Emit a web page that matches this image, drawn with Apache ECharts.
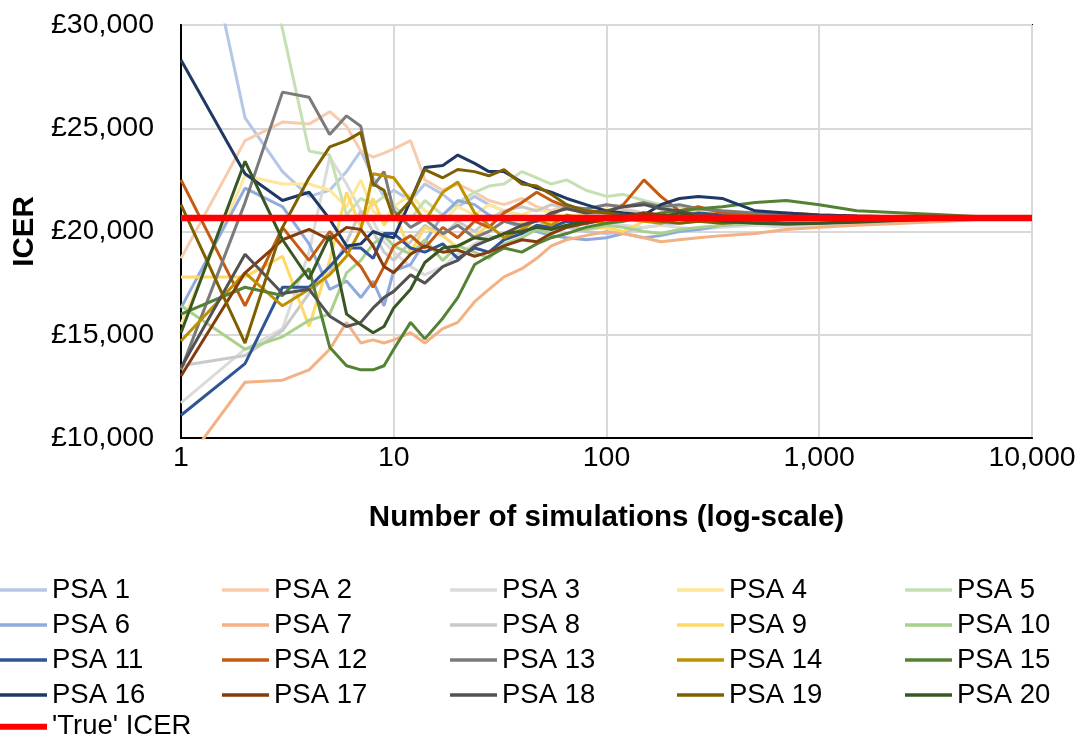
<!DOCTYPE html>
<html>
<head>
<meta charset="utf-8">
<script src="https://cdn.jsdelivr.net/npm/echarts@6/dist/echarts.min.js"></script>
<style>
html,body{margin:0;padding:0;background:#fff;}
#chart{width:1083px;height:740px;}
</style>
</head>
<body>
<div id="chart"></div>
<script>
// Number of simulations (x positions)
const simulations = [1,2,3,4,5,6,7,8,9,10,12,14,17,20,24,28,33,40,47,55,65,80,100,120,150,180,220,270,350,500,700,1000,1500,2500,4000,6000,10000];

const psa1  = [40000,25500,22900,21700,22000,22900,23900,22600,21700,22000,21500,22300,21800,21200,21700,21300,21000,20800,20500,20300,20200,20000,19900,20000,20200,20300,20400,20500,20500,20600,20500,20550,20600,20650,20650,20650,20650];
const psa2  = [18700,24400,25300,25200,25800,25100,23900,23600,23800,24000,24400,22500,22000,22300,21900,21500,21300,21600,21200,21000,21300,21000,21300,21100,20900,20800,20700,20800,20700,20600,20600,20650,20600,20650,20700,20650,20650];
const psa3  = [11700,14300,15300,19000,23600,22300,21000,20500,19500,19000,18300,17900,18300,18900,19400,19800,19600,20000,20300,20200,20500,20300,20400,20300,20200,20300,20200,20100,20200,20300,20200,20300,20400,20500,20550,20600,20650];
const psa4  = [15500,22700,22300,22300,22000,21200,22500,21000,20500,21200,21800,21000,20500,21200,20800,21300,21000,20800,21100,20900,20700,20900,21100,20800,20700,20900,21000,20900,20800,20900,20800,20700,20700,20650,20700,20650,20650];
const psa5  = [48000,37000,29800,23900,23700,20800,21600,21300,21700,21200,20600,21500,20800,21400,21900,22200,22300,22900,22600,22300,22500,22000,21700,21800,21500,21300,21200,21000,20900,20800,20800,20700,20700,20650,20700,20650,20650];
const psa6  = [16300,22100,21200,19400,17200,17600,16800,17600,16400,18100,18400,19500,20800,21500,21300,20800,20500,20200,20000,19800,19700,19600,19700,19900,19700,19800,20000,20100,20300,20400,20500,20500,20600,20600,20650,20650,20650];
const psa7  = [8500,12700,12800,13300,14300,15600,14600,14750,14600,14750,15100,14600,15300,15600,16600,17200,17800,18200,18700,19300,19600,19800,20000,19900,19700,19500,19600,19700,19800,19900,20100,20200,20300,20400,20500,20600,20650];
const psa8  = [13500,14000,15200,17000,18000,19500,21000,20000,19000,18600,19500,20300,19800,20500,20000,20600,21000,21200,21000,21300,21200,20900,20800,21000,20900,20700,20800,20900,20700,20600,20700,20700,20650,20700,20650,20650,20650];
const psa9  = [17800,17800,18800,15400,18600,21900,20200,21600,20300,21000,19000,20200,19800,19200,19800,20300,19700,20400,20100,20500,20300,20100,20200,20000,20500,20600,20800,21000,20900,20800,20700,20700,20650,20650,20700,20650,20650];
const psa10 = [16400,14300,14900,15700,16000,18000,18600,19400,19800,19300,18900,19600,18600,19300,19000,18700,19400,19700,20100,19900,20300,20100,20300,20200,20000,19900,20100,20200,20300,20400,20500,20500,20550,20600,20650,20650,20650];
const psa11 = [11100,13600,17300,17300,18300,19200,19200,18700,19900,19900,19200,19000,19400,18700,19200,19000,19600,19900,20300,20200,20500,20400,20600,20700,20900,20800,20700,20900,20800,20700,20800,20750,20700,20700,20650,20700,20650];
const psa12 = [22500,16400,20200,18600,20000,19000,18300,17300,18300,19300,19800,19200,20200,19700,20500,20200,20900,21400,21900,21500,21200,21000,20900,21300,22500,21700,21000,21200,20900,20800,20900,20800,20750,20700,20700,20650,20650];
const psa13 = [13300,21400,26750,26500,24700,25600,25100,22200,22900,21000,20200,20600,19900,20300,19700,20000,20500,20300,20600,20800,21200,21100,21300,21200,21400,21200,21300,21100,21000,20900,20800,20750,20700,20700,20650,20650,20650];
const psa14 = [14700,18000,16400,17200,17900,18800,20100,22800,22700,22600,21500,20500,21900,22400,20900,20300,19700,20100,20600,20300,20800,20600,20400,20600,20500,20400,20600,20700,20600,20600,20700,20600,20650,20600,20650,20650,20650];
const psa15 = [16000,17300,16900,18200,14400,13500,13300,13300,13500,14300,15600,14800,15800,16800,18400,18800,19200,19000,19400,19700,19900,20200,20400,20500,20700,20900,21000,21100,21200,21400,21500,21300,21000,20900,20800,20700,20650];
const psa16 = [28300,22800,21500,21900,20600,19300,19400,20000,19800,19700,21500,23100,23200,23700,23300,22900,22900,22400,22100,21900,21600,21300,21000,20900,20800,21300,21600,21700,21600,21000,20900,20800,20750,20700,20650,20700,20650];
const psa17 = [13000,18000,19600,20100,19600,20200,20100,19300,18300,18000,18900,19300,19000,19100,18800,19000,19300,19600,19500,19900,20200,20400,20600,20700,20900,20800,20700,20800,20700,20600,20700,20650,20650,20700,20650,20650,20650];
const psa18 = [13400,18900,17000,17200,15900,15400,15600,16300,16800,17100,17900,17500,18300,18600,19300,19600,19900,20300,20500,20900,21100,20900,21000,21200,21300,21100,21000,20800,20600,20500,20400,20400,20500,20550,20600,20650,20650];
const psa19 = [21300,14600,20200,22600,24100,24400,24800,22300,22000,20600,21500,23000,22600,23000,22900,22700,23000,22300,22200,21800,21300,21000,20900,20800,20600,20500,20400,20500,20400,20500,20600,20600,20650,20600,20650,20650,20650];
const psa20 = [15100,23400,19600,17700,19800,16000,15500,15100,15400,16300,17200,18500,19200,19300,19700,19600,19900,20000,20200,20100,20300,20500,20700,20800,20600,20700,20900,20700,20500,20400,20350,20400,20450,20550,20600,20650,20650];

const trueIcer = 20650;
const trueIcerRange = [1, 10000];

const seriesNames = ['PSA 1','PSA 2','PSA 3','PSA 4','PSA 5','PSA 6','PSA 7','PSA 8','PSA 9','PSA 10',
  'PSA 11','PSA 12','PSA 13','PSA 14','PSA 15','PSA 16','PSA 17','PSA 18','PSA 19','PSA 20'];
const seriesValues = [psa1,psa2,psa3,psa4,psa5,psa6,psa7,psa8,psa9,psa10,psa11,psa12,psa13,psa14,psa15,psa16,psa17,psa18,psa19,psa20];
const seriesColors = ['#B4C7E7','#F8CBAD','#DBDBDB','#FFE699','#C5E0B4',
  '#8FAADC','#F4B183','#C9C9C9','#FFD966','#A9D18E',
  '#2F5597','#C55A11','#7B7B7B','#BF9000','#548235',
  '#1F3864','#843C0C','#525252','#7F6000','#385723'];
const trueName = "'True' ICER";

const FONT = 'Liberation Sans, Arial, sans-serif';

const series = seriesNames.map((name, i) => ({
  name: name,
  type: 'line',
  data: simulations.map((x, j) => [x, seriesValues[i][j]]),
  showSymbol: false,
  symbol: 'none',
  lineStyle: { width: 3, color: seriesColors[i] },
  itemStyle: { color: seriesColors[i] },
  clip: true,
  z: 2
}));
series.push({
  name: trueName,
  type: 'line',
  data: trueIcerRange.map(x => [x, trueIcer]),
  showSymbol: false,
  symbol: 'none',
  lineStyle: { width: 6.5, color: '#FF0000' },
  itemStyle: { color: '#FF0000' },
  z: 3
});

const colLefts = [0, 222, 450, 677, 905];
const legendTop = 576;
const legendText = { fontSize: 27.5, fontFamily: FONT, color: '#000', lineHeight: 27 };
const legends = colLefts.map((left, c) => ({
  orient: 'vertical',
  left: left,
  top: legendTop,
  padding: 0,
  data: [0,1,2,3].map(r => seriesNames[r * 5 + c]),
  icon: 'rect',
  itemWidth: 47,
  itemHeight: 3.5,
  itemGap: 7,
  selectedMode: false,
  textStyle: legendText
}));
legends.push({
  orient: 'vertical',
  left: 0,
  top: legendTop + 4 * 34.2,
  padding: 0,
  data: [trueName],
  icon: 'rect',
  itemWidth: 47,
  itemHeight: 6,
  selectedMode: false,
  textStyle: legendText
});

const chart = echarts.init(document.getElementById('chart'));
chart.setOption({
  animation: false,
  backgroundColor: '#fff',
  grid: { left: 181, right: 51, top: 25, bottom: 302, show: true, borderColor: '#000', borderWidth: 2, containLabel: false },
  legend: legends,
  xAxis: {
    type: 'log',
    logBase: 10,
    min: 1,
    max: 10000,
    name: 'Number of simulations (log-scale)',
    nameLocation: 'middle',
    nameGap: 65,
    nameTextStyle: { fontSize: 29.5, fontWeight: 'bold', fontFamily: FONT, color: '#000' },
    axisLine: { show: true, lineStyle: { color: '#000', width: 2 } },
    axisTick: { show: false },
    minorTick: { show: false },
    axisLabel: { fontSize: 28.5, fontFamily: FONT, color: '#000', margin: 6,
      formatter: v => Number(v).toLocaleString('en-US') },
    splitLine: { show: true, lineStyle: { color: '#D9D9D9', width: 2 } }
  },
  yAxis: {
    type: 'value',
    min: 10000,
    max: 30000,
    interval: 5000,
    name: 'ICER',
    nameLocation: 'middle',
    nameGap: 141,
    nameTextStyle: { fontSize: 29.5, fontWeight: 'bold', fontFamily: FONT, color: '#000' },
    axisLine: { show: true, lineStyle: { color: '#000', width: 2 } },
    axisTick: { show: false },
    axisLabel: { fontSize: 28.5, fontFamily: FONT, color: '#000', margin: 27,
      formatter: v => '£' + Number(v).toLocaleString('en-US') },
    splitLine: { show: true, lineStyle: { color: '#D9D9D9', width: 2 } }
  },
  series: series
});
</script>
</body>
</html>
